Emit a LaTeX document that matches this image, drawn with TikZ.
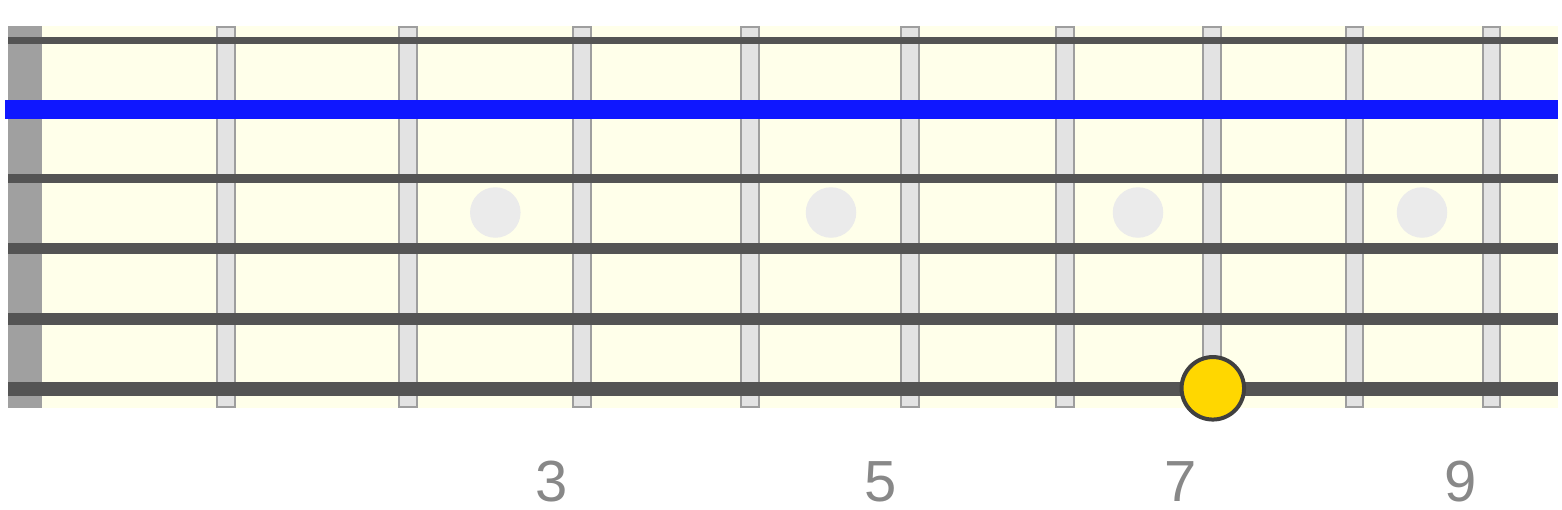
\documentclass[tikz,border=0pt]{standalone}
\usepackage{fontspec}
\setmainfont{Liberation Sans}
\definecolor{boardbg}{HTML}{FFFFEA}
\definecolor{nutgray}{HTML}{A0A0A0}
\definecolor{fretfill}{HTML}{E3E3E3}
\definecolor{fretedge}{HTML}{9E9E9E}
\definecolor{stringgray}{HTML}{545454}
\definecolor{inlay}{HTML}{EBEBEB}
\definecolor{bluestr}{HTML}{0F17FF}
\definecolor{notegold}{HTML}{FFD700}
\definecolor{noteedge}{HTML}{404040}
\definecolor{labelgray}{HTML}{888888}
\tikzset{
  fretbar/.style={fill=fretfill,draw=fretedge,line width=2pt},
  inlaydot/.style={circle,fill=inlay,inner sep=0pt,minimum size=50.5pt},
  guitarstring/.style={draw=stringgray,line cap=butt},
  notedot/.style={circle,fill=notegold,draw=noteedge,line width=4pt,inner sep=0pt,minimum size=62.5pt},
  fretlabel/.style={text=labelgray,anchor=base,inner sep=0pt,font=\fontsize{58}{58}\selectfont}
}
\begin{document}
\begin{tikzpicture}[x=1pt,y=-1pt]
\useasboundingbox (0,0) rectangle (1562,509);
% board
\fill[boardbg] (8,26) rectangle (1558,407.5);
\fill[nutgray] (8,26) rectangle (42.3,407.5);
% frets
\foreach \fx in {226,408,581.7,750,910,1065,1212,1354.5,1491.5}{
  \filldraw[fretbar] ({\fx-8.8},27) rectangle ({\fx+8.8},406.5);
}
% inlays
\node[inlaydot] (i3) at (495.3,212.5) {};
\node[inlaydot] (i5) at (831,212.5) {};
\node[inlaydot] (i7) at (1138,212.5) {};
\node[inlaydot] (i9) at (1422,212.5) {};
% strings
\coordinate (s1a) at (8,40.3);   \coordinate (s1b) at (1558,40.3);
\coordinate (s2a) at (5,109.5);  \coordinate (s2b) at (1558,109.5);
\coordinate (s3a) at (8,178.7);  \coordinate (s3b) at (1558,178.7);
\coordinate (s4a) at (8,248.7);  \coordinate (s4b) at (1558,248.7);
\coordinate (s5a) at (8,318.8);  \coordinate (s5b) at (1558,318.8);
\coordinate (s6a) at (8,388.8);  \coordinate (s6b) at (1558,388.8);
\draw[guitarstring,line width=6.7pt] (s1a) -- (s1b);
\draw[draw=bluestr,line width=19pt] (s2a) -- (s2b);
\draw[guitarstring,line width=8.7pt] (s3a) -- (s3b);
\draw[guitarstring,line width=10.5pt] (s4a) -- (s4b);
\draw[guitarstring,line width=12.2pt] (s5a) -- (s5b);
\draw[guitarstring,line width=14pt] (s6a) -- (s6b);
% note
\node[notedot] (note) at (1212.8,388.3) {};
% labels
\node[fretlabel] (l3) at (551.5,501.7) {3};
\node[fretlabel] (l5) at (881,501.7) {5};
\node[fretlabel] (l7) at (1180.5,501.7) {7};
\node[fretlabel] (l9) at (1461,501.7) {9};
\end{tikzpicture}
\end{document}
